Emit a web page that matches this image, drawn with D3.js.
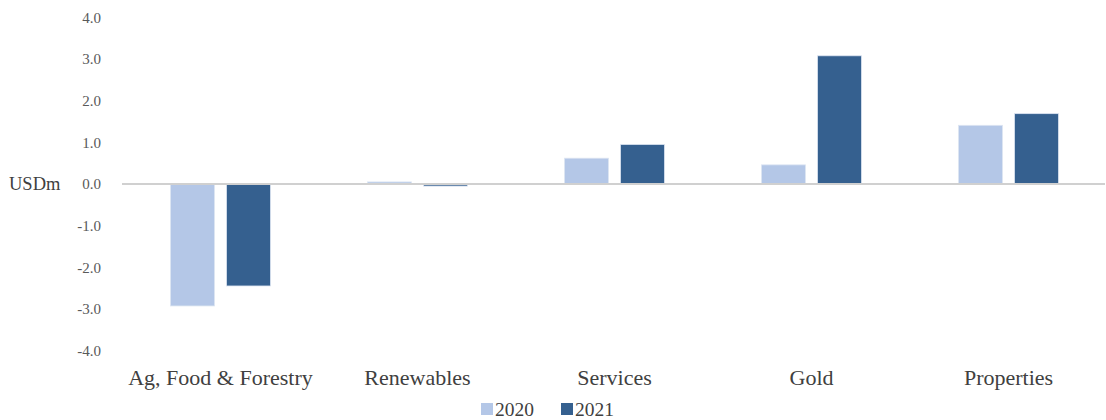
<!DOCTYPE html>
<html><head><meta charset="utf-8">
<script src="https://cdn.jsdelivr.net/npm/d3@7"></script>
<style>body{margin:0;background:#fff}svg{display:block}svg text{font-family:"Liberation Serif","Times New Roman",serif}</style>
</head><body><svg id="c" width="1106" height="420"></svg>
<script>
const categories = ["Ag, Food & Forestry","Renewables","Services","Gold","Properties"];
const seriesNames = ["2020","2021"];
const values2020 = [-2.93, 0.05, 0.62, 0.46, 1.41];
const values2021 = [-2.45, -0.05, 0.95, 3.08, 1.69];
const yTicks = [4,3,2,1,0,-1,-2,-3,-4];
const colors = ["#b4c7e7","#35608f"];

const svg = d3.select("#c");
const y = d3.scaleLinear().domain([-4,4]).range([350.5,17.5]);
const x0 = d3.scaleBand().domain(categories).range([122,1107]);
const x1 = d3.scaleBand().domain(seriesNames).range([x0.bandwidth()/2-50, x0.bandwidth()/2+50]).paddingInner(0.214);

// y labels
const yAxis = d3.axisLeft(y).tickValues(yTicks).tickFormat(d => d.toFixed(1)).tickSize(0).tickPadding(0);
const ga = svg.append("g").attr("transform","translate(101,0)").call(yAxis);
ga.attr("font-family",null);
ga.select(".domain").remove();
ga.selectAll("text").attr("font-size",15).attr("fill","#595959");

svg.append("text").attr("x",9).attr("y",y(0)).attr("dy","0.35em")
  .attr("font-size",18.5).attr("fill","#404040").text("USDm");

const data = categories.map((c,i)=>({cat:c, vals:[values2020[i], values2021[i]]}));
const groups = svg.selectAll("g.cat").data(data).join("g").attr("class","cat")
  .attr("transform",d=>`translate(${x0(d.cat)},0)`);
groups.selectAll("rect").data(d=>d.vals.map((v,j)=>({v, s:seriesNames[j], j})))
  .join("rect")
  .attr("x",d=>x1(d.s)).attr("width",x1.bandwidth())
  .attr("y",d=>Math.min(y(d.v),y(0))).attr("height",d=>Math.abs(y(d.v)-y(0)))
  .attr("fill",d=>colors[d.j]).attr("stroke","#dde5f2").attr("stroke-width",0.8);

// zero line
svg.append("line").attr("x1",122).attr("x2",1105).attr("y1",y(0)).attr("y2",y(0))
  .attr("stroke","#d0d0d0").attr("stroke-width",2);

// category labels
const xAxis = d3.axisBottom(x0).tickSize(0).tickPadding(0);
const gx = svg.append("g").attr("transform","translate(0,385)").call(xAxis);
gx.attr("font-family",null);
gx.select(".domain").remove();
gx.selectAll("text").attr("font-size",22).attr("fill","#404040").attr("dy","0");

// legend
const leg = svg.append("g").attr("transform","translate(481,403)");
const li = leg.selectAll("g").data(seriesNames).join("g").attr("transform",(d,i)=>`translate(${i*80},0)`);
li.append("rect").attr("width",12).attr("height",12).attr("fill",(d,i)=>colors[i]);
li.append("text").attr("x",14).attr("y",12.5).attr("font-size",19.5).attr("fill","#404040").text(d=>d);
</script></body></html>
